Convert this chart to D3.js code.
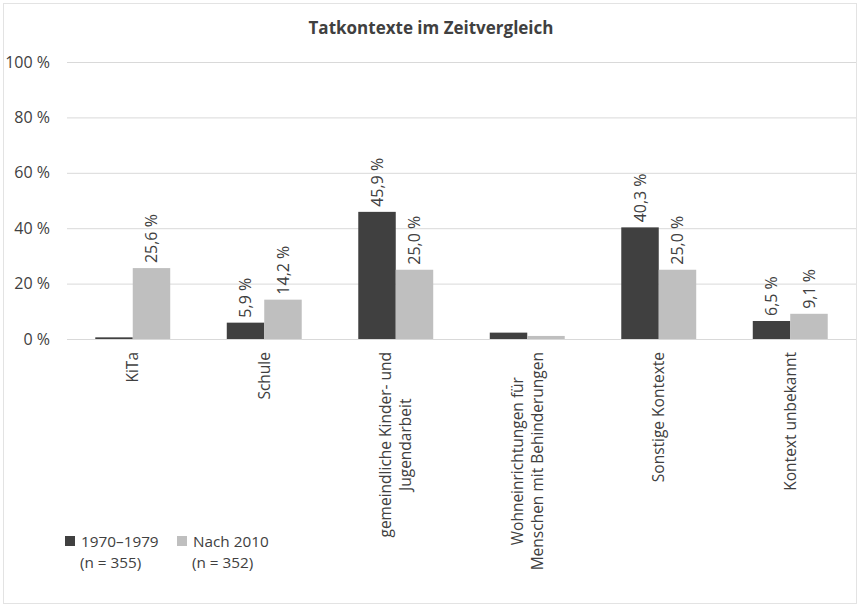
<!DOCTYPE html>
<html>
<head>
<meta charset="utf-8">
<script src="https://cdn.jsdelivr.net/npm/d3@7"></script>
<style>
  body { margin: 0; background: #fff; }
  text { font-family: "Open Sans", "Noto Sans", sans-serif; fill: #404040; }
</style>
</head>
<body>
<div id="chart"></div>
<script>
var categories = [
  ["KiTa"],
  ["Schule"],
  ["gemeindliche Kinder- und", "Jugendarbeit"],
  ["Wohneinrichtungen für", "Menschen mit Behinderungen"],
  ["Sonstige Kontexte"],
  ["Kontext unbekannt"]
];
var series = ["1970–1979", "Nach 2010"];
var seriesN = ["(n = 355)", "(n = 352)"];
var values1970 = [0.6, 5.9, 45.9, 2.3, 40.3, 6.5];
var values2010 = [25.6, 14.2, 25.0, 1.1, 25.0, 9.1];
var showLabel1970 = [false, true, true, false, true, true];
var showLabel2010 = [true, true, true, false, true, true];
var yTicks = [0, 20, 40, 60, 80, 100];
var colors = ["#404040", "#bfbfbf"];

var W = 860, H = 607;
var margin = {top: 62, right: 4, bottom: 268, left: 67};

var svg = d3.select("#chart").append("svg")
  .attr("width", W).attr("height", H);

// chart border
svg.append("rect")
  .attr("x", 3.5).attr("y", 3.5)
  .attr("width", W - 7).attr("height", H - 7)
  .attr("fill", "#fff").attr("stroke", "#e3e3e3");

svg.append("text")
  .attr("x", 431).attr("y", 34)
  .attr("text-anchor", "middle")
  .style("font-size", "17px").style("font-weight", "bold")
  .text("Tatkontexte im Zeitvergleich");

var x = d3.scaleBand()
  .domain(d3.range(categories.length))
  .range([margin.left, W - margin.right])
  .paddingInner(0.43).paddingOuter(0.215);

var xs = d3.scaleBand().domain([0, 1]).range([0, x.bandwidth()]);

var y = d3.scaleLinear().domain([0, 100]).range([339, 62]);

// gridlines and y ticks
var yAxis = d3.axisLeft(y)
  .tickValues(yTicks)
  .tickSize(-(W - margin.right - margin.left))
  .tickFormat(function(d){ return d + " %"; });

var gy = svg.append("g")
  .attr("transform", "translate(" + margin.left + ",0)")
  .call(yAxis);
gy.select(".domain").remove();
gy.selectAll(".tick line").attr("stroke", "#d9d9d9");
gy.selectAll(".tick text")
  .attr("x", -17)
  .style("font-size", "16px")
  .style("font-family", "'Open Sans', sans-serif")
  .attr("fill", "#404040");

// bars
var data = [values1970, values2010];
var labelsOn = [showLabel1970, showLabel2010];

data.forEach(function(vals, s){
  var rows = vals.map(function(v, i){ return {v: v, i: i, show: labelsOn[s][i]}; });
  var g = svg.append("g");
  g.selectAll("rect")
    .data(rows)
    .enter()
    .append("rect")
    .attr("x", function(d){ return x(d.i) + xs(s); })
    .attr("width", xs.bandwidth())
    .attr("y", function(d){ return y(d.v); })
    .attr("height", function(d){ return y(0) - y(d.v); })
    .attr("fill", colors[s]);

  g.selectAll("text")
    .data(rows.filter(function(d){ return d.show; }))
    .enter()
    .append("text")
    .attr("transform", function(d){
      var cx = x(d.i) + xs(s) + xs.bandwidth() / 2;
      return "translate(" + cx + "," + (y(d.v) - 5) + ") rotate(-90)";
    })
    .attr("dy", "0.35em")
    .style("font-size", "16px")
    .text(function(d){ return d.v.toFixed(1).replace(".", ",") + " %"; });
});

// category labels
var lineH = 20;
categories.forEach(function(lines, i){
  var cx = x(i) + x.bandwidth() / 2;
  var t = svg.append("text")
    .style("font-size", "15.5px")
    .attr("text-anchor", "middle");
  var n = lines.length;
  lines.forEach(function(l, k){
    t.append("tspan")
      .attr("x", 0)
      .attr("y", (k - (n - 1) / 2) * lineH)
      .attr("dy", "0.35em")
      .text(l);
  });
  // longest line starts just below the axis
  var maxLen = 0;
  t.selectAll("tspan").each(function(){
    maxLen = Math.max(maxLen, this.getComputedTextLength());
  });
  t.attr("transform", "translate(" + cx + "," + (352 + maxLen / 2) + ") rotate(-90)");
});

// legend
var legX = [65, 177];
series.forEach(function(name, s){
  var lg = svg.append("g");
  lg.append("rect")
    .attr("x", legX[s]).attr("y", 536)
    .attr("width", 10).attr("height", 10)
    .attr("fill", colors[s]);
  lg.append("text")
    .attr("x", legX[s] + 16).attr("y", 547)
    .style("font-size", "15.3px")
    .text(name);
  lg.append("text")
    .attr("x", legX[s] + 15).attr("y", 568)
    .style("font-size", "15.3px")
    .text(seriesN[s]);
});
</script>
</body>
</html>
